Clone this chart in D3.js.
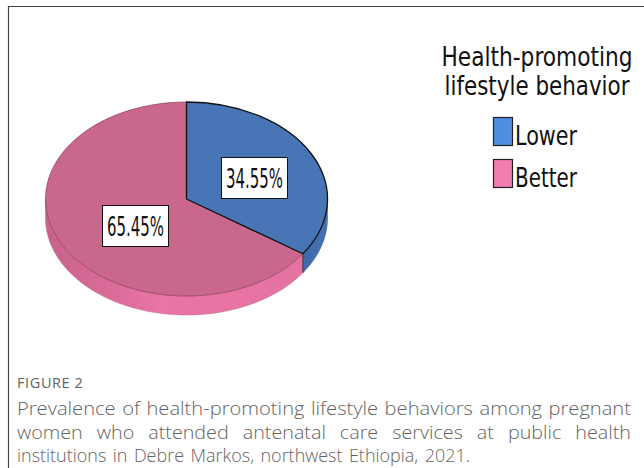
<!DOCTYPE html>
<html><head><meta charset="utf-8">
<script src="https://cdn.jsdelivr.net/npm/d3@7"></script>
<style>html,body{margin:0;padding:0;background:#fff;}svg{display:block;}</style>
</head><body>
<svg id="c" width="644" height="468"></svg>
<script>
// ---- data ----
const categories = ["Lower", "Better"];
const values = [34.55, 65.45];
const valueLabels = ["34.55%", "65.45%"];
const legendTitle = ["Health-promoting", "lifestyle behavior"];
const figureLabel = "FIGURE 2";
const captionLines = [
  "Prevalence of health-promoting lifestyle behaviors among pregnant",
  "women who attended antenatal care services at public health",
  "institutions in Debre Markos, northwest Ethiopia, 2021."
];

// ---- styles ----
const topColors = ["#4875b6", "#c9678c"];
const legendColors = ["#4f8ee0", "#f47daf"];
const narrow = "'Liberation Sans Narrow','DejaVu Sans Condensed',sans-serif";

const svg = d3.select("#c");

// frame
svg.append("path").attr("d","M8.5,468 L8.5,6.5 L644,6.5").attr("fill","none").attr("stroke","#444").attr("stroke-width",1.2);

// ---- pie ----
const cx = 186.5, cy = 199, rx = 141, ry = 97, depth = 19;
const pie = d3.pie().sort(null).value(d => d)(values);
const pt = (a, dy=0) => [cx + rx*Math.sin(a), cy - ry*Math.cos(a) + dy];

const defs = svg.append("defs");
const gPink = defs.append("linearGradient").attr("id","sidePink").attr("x1","0").attr("x2","1").attr("y1","0").attr("y2","0");
gPink.append("stop").attr("offset","0%").attr("stop-color","#c6628a");
gPink.append("stop").attr("offset","45%").attr("stop-color","#ea74a4");
gPink.append("stop").attr("offset","100%").attr("stop-color","#e473a2");
const gBlue = defs.append("linearGradient").attr("id","sideBlue").attr("x1","0").attr("x2","1");
gBlue.append("stop").attr("offset","0%").attr("stop-color","#3e6aa8");
gBlue.append("stop").attr("offset","100%").attr("stop-color","#4672b2");
const sideFill = ["url(#sideBlue)", "url(#sidePink)"];

pie.forEach((s, i) => {
  const s0 = Math.max(s.startAngle, Math.PI/2), s1 = Math.min(s.endAngle, 3*Math.PI/2);
  if (s1 <= s0) return;
  const n = 60, topPts = [], botPts = [];
  for (let k = 0; k <= n; k++) { const a = s0 + (s1-s0)*k/n; topPts.push(pt(a)); botPts.push(pt(a, depth)); }
  const pts = topPts.concat(botPts.reverse());
  svg.append("path").attr("d", d3.line()(pts) + "Z").attr("fill", sideFill[i]).attr("stroke", i===0?"#2f5690":"#c0648a").attr("stroke-width",0.5);
});
{
  const a = pie[0].endAngle, p = pt(a), q = pt(a, depth);
  svg.append("line").attr("x1",p[0]).attr("y1",p[1]).attr("x2",q[0]).attr("y2",q[1]).attr("stroke","#2a2a2a").attr("stroke-width",0.8);
}

const arc = d3.arc().innerRadius(0).outerRadius(rx);
const topG = svg.append("g").attr("transform", `translate(${cx},${cy}) scale(1,${ry/rx})`);
[1,0].forEach(i => {
  topG.append("path").attr("d", arc(pie[i])).attr("fill", topColors[i])
    .attr("stroke", i===0 ? "#111" : "#8a3c5c").attr("stroke-width", i===0 ? 1.3 : 0.7)
    .attr("vector-effect","non-scaling-stroke").attr("stroke-linejoin","round");
});

// value labels
const labelBoxes = [[221.5,157.5,66,41],[102.5,205.5,66,41]];
pie.forEach((s, i) => {
  const [x,y,w,h] = labelBoxes[i];
  svg.append("rect").attr("x",x).attr("y",y).attr("width",w).attr("height",h).attr("fill","#fff").attr("stroke","#111").attr("stroke-width",1);
  svg.append("text").attr("x",x+w/2).attr("y",y+h/2+9.5).attr("text-anchor","middle")
    .attr("font-family",narrow).attr("font-size",27).attr("fill","#111")
    .attr("textLength",57).attr("lengthAdjust","spacingAndGlyphs").text(valueLabels[i]);
});

// legend
const lx = 537;
legendTitle.forEach((t, i) => {
  svg.append("text").attr("transform", `translate(${lx},${66 + i*29}) scale(1,1.2)`).attr("text-anchor","middle")
    .attr("font-family",narrow).attr("font-size",22).attr("fill","#111")
    .attr("textLength", i===0?191:185).attr("lengthAdjust","spacingAndGlyphs").text(t);
});
categories.forEach((c, i) => {
  const y0 = 117 + i*42;
  svg.append("rect").attr("x",493.5).attr("y",y0+0.5).attr("width",19).attr("height",28).attr("fill",legendColors[i]).attr("stroke","#222").attr("stroke-width",1.2);
  svg.append("text").attr("x",515).attr("y",y0+28).attr("font-family",narrow).attr("font-size",27).attr("fill","#111")
    .attr("textLength", 62).attr("lengthAdjust","spacingAndGlyphs").text(c);
});

// caption
svg.append("text").attr("x",17).attr("y",388).attr("font-family","'Open Sans',sans-serif").attr("font-size",14.5)
  .attr("font-weight",500).attr("fill","#626262").attr("letter-spacing",0.6).text(figureLabel);
const capX0 = 17, capX1 = 631, capSize = 18;
const lineGaps = [6.5, 14, 6.5];      // target word gaps per line
const lineEnds = [631, 631, 470];     // right end of each line
const capLayer = svg.append("g");
captionLines.forEach((line, i) => {
  const words = line.split(" ");
  const nodes = words.map(w => capLayer.append("text").attr("y", 415 + i*23.5).attr("font-family","'Open Sans',sans-serif")
    .attr("font-size",capSize).attr("font-weight",300).attr("fill","#636363").text(w));
  const nat = nodes.map(n => n.node().getComputedTextLength());
  const s = (lineEnds[i] - capX0 - lineGaps[i]*(words.length-1)) / d3.sum(nat);
  const widths = nat.map(w => w*s);
  let x = capX0;
  nodes.forEach((n, k) => {
    n.attr("x", x).attr("textLength", widths[k]).attr("lengthAdjust","spacingAndGlyphs");
    x += widths[k] + lineGaps[i];
  });
});
</script>
</body></html>
